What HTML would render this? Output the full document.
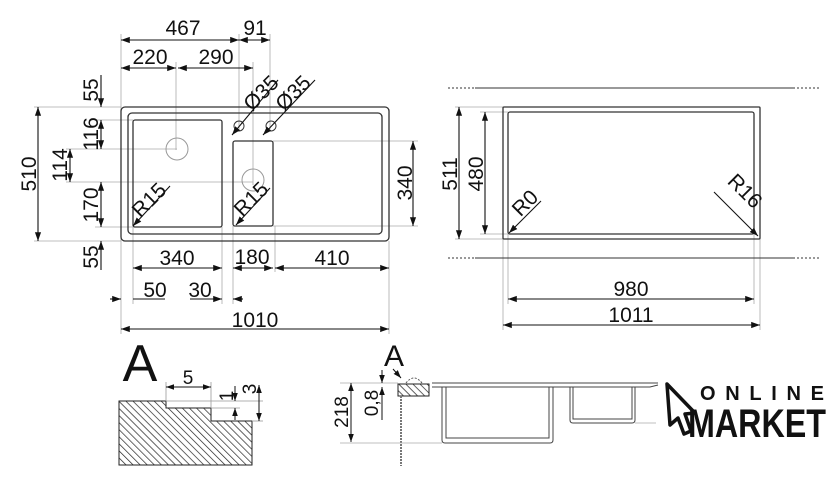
<!DOCTYPE html>
<html><head><style>
body{margin:0;background:#fff}
svg{display:block}
text{font-family:"Liberation Sans",sans-serif;fill:#111}
</style></head><body>
<svg width="840" height="484" viewBox="0 0 840 484" xmlns="http://www.w3.org/2000/svg">
<defs>
<marker id="a" viewBox="0 0 10 10" refX="10" refY="5" markerWidth="8" markerHeight="8" orient="auto-start-reverse"><path d="M0,1.5 L10,5 L0,8.5 z" fill="#111"/></marker>
<pattern id="h" width="5" height="5" patternUnits="userSpaceOnUse" patternTransform="rotate(-45)"><line x1="0" y1="0" x2="0" y2="5" stroke="#222" stroke-width="1.4"/></pattern>
</defs>
<g fill="none" stroke="#aaa" stroke-width="0.8">
<line x1="121" y1="34" x2="121" y2="334"/><line x1="239" y1="34" x2="239" y2="130"/><line x1="270" y1="34" x2="270" y2="130"/>
<line x1="176" y1="62" x2="176" y2="150"/><line x1="253" y1="62" x2="253" y2="185"/>
<line x1="34" y1="107" x2="121" y2="107"/><line x1="34" y1="241" x2="121" y2="241"/>
<line x1="95" y1="120" x2="133" y2="120"/><line x1="66" y1="149" x2="177" y2="149"/><line x1="66" y1="182" x2="253" y2="182"/><line x1="95" y1="227" x2="133" y2="227"/>
<line x1="273" y1="141" x2="418" y2="141"/><line x1="273" y1="226" x2="418" y2="226"/>
<line x1="133" y1="227" x2="133" y2="304"/><line x1="222" y1="227" x2="222" y2="304"/><line x1="233" y1="226" x2="233" y2="304"/><line x1="275" y1="226" x2="275" y2="272"/><line x1="389" y1="241" x2="389" y2="334"/>
<line x1="455" y1="107" x2="503" y2="107"/><line x1="480" y1="112" x2="508" y2="112"/><line x1="455" y1="239" x2="503" y2="239"/><line x1="480" y1="234" x2="508" y2="234"/>
<line x1="503" y1="239" x2="503" y2="330"/><line x1="508" y1="234" x2="508" y2="304"/><line x1="754" y1="234" x2="754" y2="304"/><line x1="760" y1="239" x2="760" y2="330"/>
</g>
<g fill="none" stroke="#333" stroke-width="1.3">
<rect x="121" y="107" width="268" height="134" rx="4"/>
<rect x="128" y="113" width="254" height="121" rx="4"/>
<rect x="133" y="120" width="89" height="107" rx="2"/>
<rect x="233" y="141" width="40" height="85" rx="2"/>
<rect x="503" y="107" width="257" height="132" rx="1"/>
<rect x="508" y="112" width="246" height="122" rx="2"/>
</g>
<g fill="none" stroke="#999" stroke-width="1">
<circle cx="177" cy="149" r="11"/><circle cx="253" cy="180" r="11"/>
</g>
<g fill="none" stroke="#333" stroke-width="1"><circle cx="239" cy="126" r="5"/><circle cx="271" cy="126" r="5"/></g>
<g stroke="#111" stroke-width="1.1" fill="none">
<line x1="121" y1="40" x2="239" y2="40" marker-start="url(#a)" marker-end="url(#a)"/>
<line x1="239" y1="40" x2="270" y2="40" marker-start="url(#a)" marker-end="url(#a)"/>
<line x1="121" y1="68" x2="176" y2="68" marker-start="url(#a)" marker-end="url(#a)"/>
<line x1="178" y1="68" x2="253" y2="68" marker-start="url(#a)" marker-end="url(#a)"/>
<line x1="38" y1="107" x2="38" y2="241" marker-start="url(#a)" marker-end="url(#a)"/>
<line x1="101" y1="75" x2="101" y2="107" marker-end="url(#a)"/>
<line x1="101" y1="120" x2="101" y2="149" marker-start="url(#a)" marker-end="url(#a)"/>
<line x1="70" y1="149" x2="70" y2="182" marker-start="url(#a)" marker-end="url(#a)"/>
<line x1="101" y1="182" x2="101" y2="227" marker-start="url(#a)" marker-end="url(#a)"/>
<line x1="101" y1="270" x2="101" y2="241" marker-end="url(#a)"/>
<line x1="413" y1="141" x2="413" y2="226" marker-start="url(#a)" marker-end="url(#a)"/>
<line x1="133" y1="268" x2="222" y2="268" marker-start="url(#a)" marker-end="url(#a)"/>
<line x1="233" y1="268" x2="273" y2="268" marker-start="url(#a)" marker-end="url(#a)"/>
<line x1="275" y1="268" x2="389" y2="268" marker-start="url(#a)" marker-end="url(#a)"/>
<line x1="110" y1="299" x2="121" y2="299" marker-end="url(#a)"/><line x1="133" y1="299" x2="165" y2="299"/>
<line x1="190" y1="299" x2="222" y2="299" marker-end="url(#a)"/><line x1="243" y1="299" x2="233" y2="299" marker-end="url(#a)"/>
<line x1="121" y1="329" x2="389" y2="329" marker-start="url(#a)" marker-end="url(#a)"/>
<line x1="170" y1="186" x2="133" y2="226" marker-end="url(#a)"/>
<line x1="270" y1="188" x2="236" y2="225" marker-end="url(#a)"/>
<line x1="278" y1="80" x2="232" y2="135" marker-end="url(#a)"/><line x1="315" y1="80" x2="263" y2="135" marker-end="url(#a)"/>
<line x1="459" y1="107" x2="459" y2="239" marker-start="url(#a)" marker-end="url(#a)"/>
<line x1="485" y1="112" x2="485" y2="234" marker-start="url(#a)" marker-end="url(#a)"/>
<line x1="541" y1="201" x2="509" y2="233" marker-end="url(#a)"/>
<line x1="714" y1="192" x2="758" y2="236" marker-end="url(#a)"/>
<line x1="508" y1="299" x2="754" y2="299" marker-start="url(#a)" marker-end="url(#a)"/>
<line x1="503" y1="325" x2="760" y2="325" marker-start="url(#a)" marker-end="url(#a)"/>
</g>
<g stroke="#333" stroke-width="1">
<line x1="448" y1="88" x2="475" y2="88" stroke-dasharray="2,2"/><line x1="475" y1="88" x2="793" y2="88"/><line x1="793" y1="88" x2="820" y2="88" stroke-dasharray="2,2"/>
<line x1="448" y1="258" x2="475" y2="258" stroke-dasharray="2,2"/><line x1="475" y1="258" x2="793" y2="258"/><line x1="793" y1="258" x2="820" y2="258" stroke-dasharray="2,2"/>
</g>
<g font-size="21">
<text x="183" y="35" text-anchor="middle">467</text><text x="255" y="35" text-anchor="middle">91</text>
<text x="150" y="64" text-anchor="middle">220</text><text x="216" y="64" text-anchor="middle">290</text>
<text transform="translate(36,174) rotate(-90)" text-anchor="middle">510</text>
<text transform="translate(98,90) rotate(-90)" text-anchor="middle">55</text>
<text transform="translate(98,134) rotate(-90)" text-anchor="middle">116</text>
<text transform="translate(67,165) rotate(-90)" text-anchor="middle">114</text>
<text transform="translate(98,205) rotate(-90)" text-anchor="middle">170</text>
<text transform="translate(98,257) rotate(-90)" text-anchor="middle">55</text>
<text transform="translate(412,183) rotate(-90)" text-anchor="middle">340</text>
<text x="177" y="265" text-anchor="middle">340</text><text x="252" y="264" text-anchor="middle">180</text><text x="332" y="265" text-anchor="middle">410</text>
<text x="155" y="297" text-anchor="middle">50</text><text x="200" y="297" text-anchor="middle">30</text>
<text x="255" y="327" text-anchor="middle">1010</text>
<text transform="translate(154,205) rotate(-45)" text-anchor="middle">R15</text>
<text transform="translate(256,204) rotate(-45)" text-anchor="middle">R15</text>
<text transform="translate(266,98) rotate(-45)" text-anchor="middle">Ø35</text>
<text transform="translate(298,98) rotate(-45)" text-anchor="middle">Ø35</text>
<text transform="translate(457,174) rotate(-90)" text-anchor="middle">511</text>
<text transform="translate(483,174) rotate(-90)" text-anchor="middle">480</text>
<text transform="translate(530,208) rotate(-45)" text-anchor="middle">R0</text>
<text transform="translate(740,196) rotate(45)" text-anchor="middle">R16</text>
<text x="631" y="296" text-anchor="middle">980</text><text x="631" y="322" text-anchor="middle">1011</text>
</g>
<text x="140" y="381" font-size="52" text-anchor="middle">A</text>
<polygon points="119,401 166,401 166,408 211,408 211,421 252,421 252,465 119,465" fill="url(#h)" stroke="#222" stroke-width="1"/>
<g stroke="#999" stroke-width="0.8"><line x1="166" y1="382" x2="166" y2="401"/><line x1="211" y1="382" x2="211" y2="408"/><line x1="166" y1="401" x2="263" y2="401"/><line x1="211" y1="408" x2="240" y2="408"/><line x1="252" y1="421" x2="263" y2="421"/></g>
<g stroke="#111" stroke-width="1" fill="none">
<line x1="166" y1="387" x2="211" y2="387" marker-start="url(#a)" marker-end="url(#a)"/>
<line x1="235" y1="386" x2="235" y2="401" marker-end="url(#a)"/><line x1="235" y1="420" x2="235" y2="408" marker-end="url(#a)"/>
<line x1="259" y1="385" x2="259" y2="421" marker-start="url(#a)" marker-end="url(#a)"/>
</g>
<g font-size="19"><text x="188" y="384" text-anchor="middle">5</text>
<text transform="translate(233,396) rotate(-90)" text-anchor="middle">1</text><text transform="translate(256,389) rotate(-90)" text-anchor="middle">3</text></g>
<text x="394" y="366" font-size="30" text-anchor="middle">A</text>
<path d="M406,383 q8,-10 16,0" stroke="#555" stroke-dasharray="2,1.5" fill="none"/>
<rect x="398" y="384" width="31" height="12" fill="url(#h)" stroke="#222"/>
<line x1="401" y1="396" x2="401" y2="466" stroke="#777" stroke-width="2" stroke-dasharray="2,1"/>
<g stroke="#444" stroke-width="1" fill="none">
<path d="M432,383 H658 M432,387 H650 L658,385"/>
<path d="M442,387 V440 q0,3 3,3 H550 q3,0 3,-3 V387"/><path d="M446,387 V438 H549 V387"/>
<path d="M570,387 V420 q0,3 3,3 H632 q3,0 3,-3 V387"/><path d="M573,387 V419 H632 V387"/>
</g>
<g stroke="#aaa" stroke-width="0.8"><line x1="340" y1="383" x2="398" y2="383"/><line x1="340" y1="443" x2="442" y2="443"/><line x1="635" y1="423" x2="656" y2="423"/></g>
<g stroke="#111" stroke-width="1" fill="none">
<line x1="351" y1="383" x2="351" y2="442" marker-start="url(#a)" marker-end="url(#a)"/>
<line x1="382" y1="370" x2="382" y2="383" marker-end="url(#a)"/><line x1="382" y1="420" x2="382" y2="387" marker-end="url(#a)"/>
<line x1="393" y1="369" x2="401" y2="378" marker-end="url(#a)"/>
</g>
<g font-size="19"><text transform="translate(348,412) rotate(-90)" text-anchor="middle">218</text><text transform="translate(378,403) rotate(-90)" text-anchor="middle">0,8</text></g>
<path d="M667,384 L695,413 L685,414 L691,431 L684,434 L678,418 L670,425 Z" fill="#fff" stroke="#111" stroke-width="3.5" stroke-linejoin="round"/>
<text x="700" y="400" font-size="20" font-weight="bold" textLength="124" lengthAdjust="spacing">ONLINE</text>
<text x="688" y="437" font-size="40" font-weight="bold" textLength="138" lengthAdjust="spacingAndGlyphs">MARKET</text>
</svg>
</body></html>
